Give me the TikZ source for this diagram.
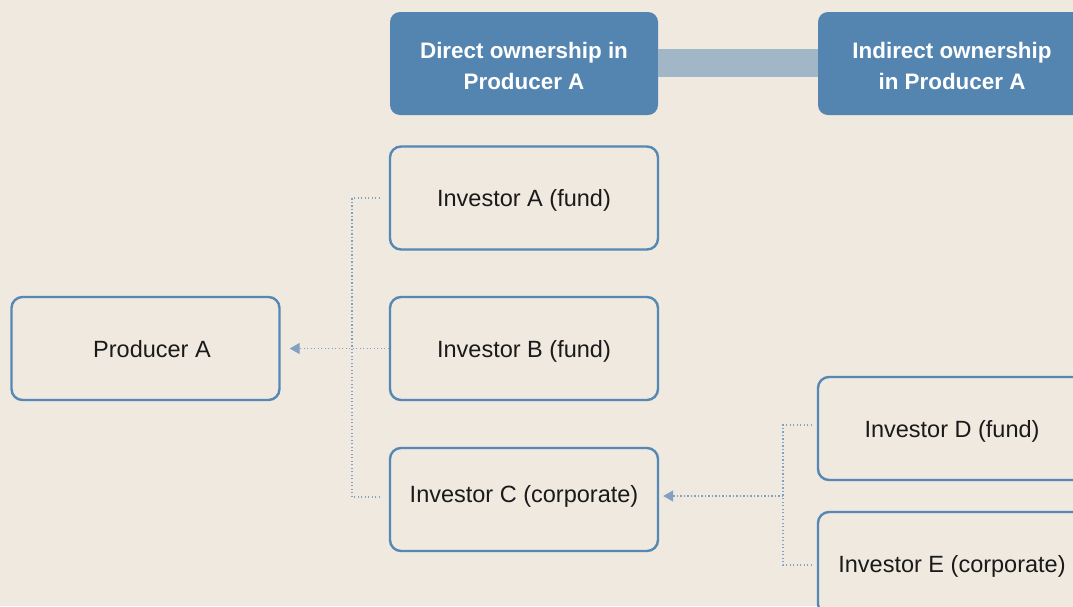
\documentclass[tikz,border=0pt]{standalone}
\usepackage{fontspec}
\setmainfont{Liberation Sans}
\usetikzlibrary{arrows.meta}
\definecolor{bg}{HTML}{EFE9DF}
\definecolor{boxline}{HTML}{5688B5}
\definecolor{hdfill}{HTML}{5385B0}
\definecolor{barfill}{HTML}{A1B7C7}
\definecolor{dotcol}{HTML}{82A0C2}
\definecolor{txt}{HTML}{1A1A1A}
\tikzset{
  entbox/.style={draw=boxline, line width=2.4pt, rounded corners=11pt, fill=bg,
    minimum width=268pt, minimum height=103pt, inner sep=0pt, text=txt,
    text height=17pt, text depth=-2pt,
    font=\fontsize{23.5}{28}\selectfont},
  hdbox/.style={fill=hdfill, rounded corners=10pt,
    minimum width=268pt, minimum height=103pt, inner sep=0pt},
  hdtext/.style={text=white, align=center, inner sep=0pt,
    font=\bfseries\fontsize{22.4}{31}\selectfont},
  dotline/.style={draw=dotcol, line width=1.3pt, dash pattern=on 1.3pt off 2.2pt},
  dotarrow/.style={dotline, -{Triangle[length=10pt,width=11pt,fill=dotcol]}}
}
\begin{document}
\begin{tikzpicture}[x=1pt,y=-1pt]
\fill[bg] (0,0) rectangle (1073,606);
\useasboundingbox (0,0) rectangle (1073,606);
\clip (0,0) rectangle (1073,606);
% headers
\node[hdbox, label={[hdtext, yshift=-2pt]center:{Direct ownership in\\Producer A}}] (hd1) at (524,63.5) {};
\node[hdbox, label={[hdtext, yshift=-2pt]center:{Indirect ownership\\in Producer A}}] (hd2) at (952,63.5) {};
\fill[barfill] (hd1.east |- 0,49) rectangle (hd2.west |- 0,77);
% boxes
\node[entbox] (pa) at (145.5,348.5) {\hspace{13pt}Producer A};
\node[entbox] (ia) at (524,198) {Investor A (fund)};
\node[entbox] (ib) at (524,348.5) {Investor B (fund)};
\node[entbox, text depth=12pt] (ic) at (524,499.5) {Investor C (corporate)};
\node[entbox] (id) at (952,428.5) {Investor D (fund)};
\node[entbox] (ie) at (952,563.5) {Investor E (corporate)};
% connectors left
\coordinate (jl) at (352,348.5);
\draw[dotline, shorten <=9pt] (ia.west) -| (jl);
\draw[dotline, shorten <=9pt] (ic.west |- 0,497) -| (jl);
\draw[dotarrow, shorten >=9pt] (ib.west) -- (pa.east);
% connectors right
\coordinate (jr) at (783,496);
\draw[dotline, shorten <=5pt] (id.west |- 0,425) -| (jr);
\draw[dotline, shorten <=5pt] (ie.west |- 0,565) -| (jr);
\draw[dotarrow, shorten >=4pt] (jr) -- (ic.east |- jr);
\end{tikzpicture}
\end{document}
